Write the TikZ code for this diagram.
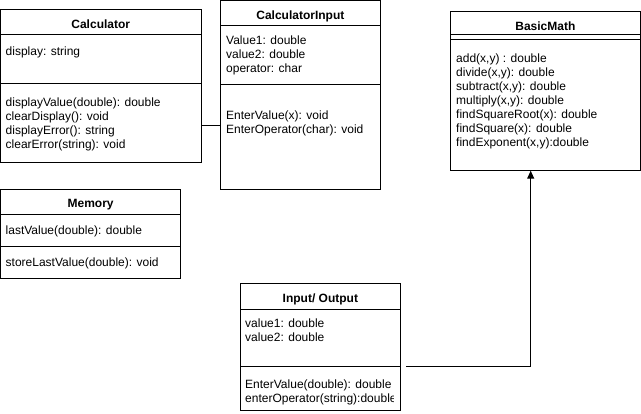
\documentclass[tikz,border=0pt]{standalone}
\usepackage{fontspec}
\setmainfont{Liberation Sans}
\usetikzlibrary{arrows.meta}
\begin{document}
\begin{tikzpicture}[x=1pt,y=-1pt,
  umlbox/.style={draw=black,line width=1pt,anchor=north west,inner sep=0pt,outer sep=0pt},
  umltitle/.style={anchor=base,inner sep=0pt,font=\fontsize{12}{14}\selectfont\bfseries},
  umltext/.style={anchor=north west,inner sep=0pt,align=left,font=\fontsize{12}{14}\selectfont},
  sep/.style={draw=black,line width=1pt},
  conn/.style={draw=black,line width=1pt}]
\useasboundingbox (0,0) rectangle (641,414);

% Calculator
\node[umlbox,minimum width=200.5pt,minimum height=153pt] (calc) at (0.5,10) {};
\draw[sep] (calc.west |- 0,35) -- (calc.east |- 0,35);
\draw[sep] (calc.west |- 0,84) -- (calc.east |- 0,84);
\node[umltitle] (calcT) at (100.75,29) {Calculator};
\node[umltext] (calcA) at (5.5,45.2) {\strut display: string};
\node[umltext] (calcM) at (5.5,96.2) {\strut displayValue(double): double\\clearDisplay(): void\\displayError(): string\\clearError(string): void};

% CalculatorInput
\node[umlbox,minimum width=159.3pt,minimum height=189.5pt] (ci) at (220.7,0.5) {};
\draw[sep] (ci.west |- 0,26) -- (ci.east |- 0,26);
\draw[sep] (ci.west |- 0,85) -- (ci.east |- 0,85);
\node[umltitle] (ciT) at (300.35,19.5) {CalculatorInput};
\node[umltext] (ciA) at (226,34.7) {\strut Value1: double\\value2: double\\operator: char};
\node[umltext] (ciM) at (226,109.2) {\strut EnterValue(x): void\\EnterOperator(char): void};

% BasicMath
\node[umlbox,minimum width=189.3pt,minimum height=159pt] (bm) at (450.7,11.7) {};
\draw[sep] (bm.west |- 0,35) -- (bm.east |- 0,35);
\draw[sep] (bm.west |- 0,40) -- (bm.east |- 0,40);
\node[umltitle] (bmT) at (545.35,30.5) {BasicMath};
\node[umltext] (bmM) at (456,52.7) {\strut add(x,y) : double\\divide(x,y): double\\subtract(x,y): double\\multiply(x,y): double\\findSquareRoot(x): double\\findSquare(x): double\\findExponent(x,y):double};

% Memory
\node[umlbox,minimum width=180.2pt,minimum height=89pt] (mem) at (0.5,190) {};
\draw[sep] (mem.west |- 0,215) -- (mem.east |- 0,215);
\draw[sep] (mem.west |- 0,246.7) -- (mem.east |- 0,246.7);
\node[umltitle] (memT) at (90.6,207.5) {Memory};
\node[umltext] (memA) at (5.5,224.2) {\strut lastValue(double): double};
\node[umltext] (memM) at (5.5,256.2) {\strut storeLastValue(double): void};

% Input/ Output
\node[umlbox,minimum width=160.7pt,minimum height=126.7pt] (io) at (240,284) {};
\draw[sep] (io.west |- 0,310) -- (io.east |- 0,310);
\draw[sep] (io.west |- 0,366.7) -- (io.east |- 0,366.7);
\node[umltitle] (ioT) at (320.35,302.5) {Input/ Output};
\node[umltext] (ioA) at (245,317.7) {\strut value1: double\\value2: double};
\begin{scope}
\clip (241,367.5) rectangle (393.5,410);
\node[umltext] (ioM) at (245,378.7) {\strut EnterValue(double): double\\enterOperator(string):double};
\end{scope}

% connectors
\coordinate (c1) at (210,126);
\draw[conn] (calc.east |- c1) -- (ci.west |- c1);
\coordinate (ioOut) at (406,366.7);
\coordinate (bmIn) at (530.7,171);
\draw[conn,-{Triangle[length=8pt,width=7pt]}] (ioOut) -- (ioOut -| bmIn) -- (bm.south -| bmIn);
\end{tikzpicture}
\end{document}
